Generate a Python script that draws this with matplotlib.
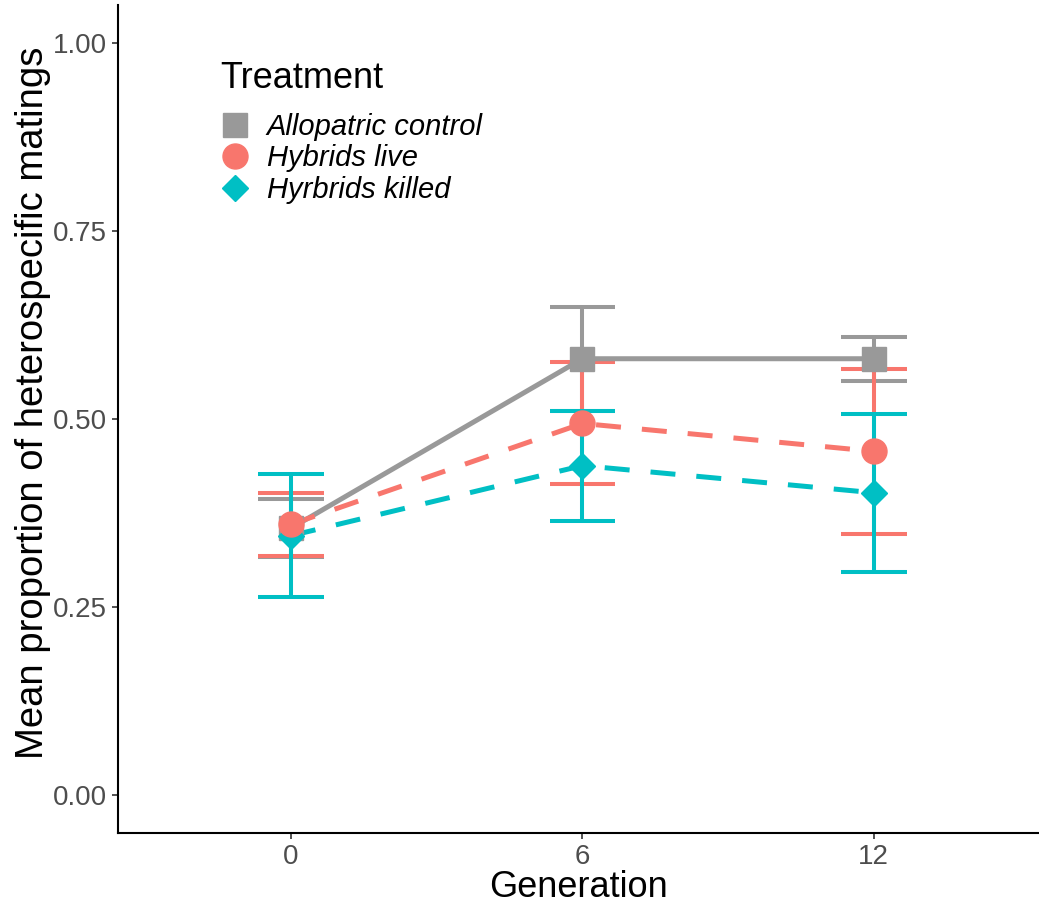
import matplotlib
matplotlib.use("Agg")
import matplotlib.pyplot as plt
from matplotlib.lines import Line2D
import numpy as np

plt.rcParams["font.family"] = ["Liberation Sans", "DejaVu Sans"]

generations = ["0", "6", "12"]
treatments = ["Allopatric control", "Hybrids live", "Hyrbrids killed"]

control_mean = [0.355, 0.580, 0.580]
control_se = [0.039, 0.069, 0.029]
live_mean = [0.360, 0.494, 0.457]
live_se = [0.042, 0.081, 0.110]
killed_mean = [0.345, 0.438, 0.402]
killed_se = [0.082, 0.073, 0.105]

colors = ["#999999", "#F8766D", "#00BFC4"]
markers = ["s", "o", "D"]
marker_sizes = [17, 18, 13]
styles = ["solid", "dashed", "dashed"]

means = [control_mean, live_mean, killed_mean]
ses = [control_se, live_se, killed_se]

fig = plt.figure(figsize=(10.39, 9.09), dpi=100)
ax = fig.add_axes([0.1136, 0.0836, 0.8864, 0.911])

x = np.arange(len(generations))
cap = 0.113

# error bars
for m, s, c in zip(means, ses, colors):
    m = np.array(m)
    s = np.array(s)
    ax.vlines(x, m - s, m + s, color=c, lw=2.9, zorder=2)
    ax.hlines(m - s, x - cap, x + cap, color=c, lw=2.9, zorder=2)
    ax.hlines(m + s, x - cap, x + cap, color=c, lw=2.9, zorder=2)

# connecting lines
for m, c, ls in zip(means, colors, styles):
    line, = ax.plot(x, m, color=c, lw=3.6, zorder=3, solid_capstyle="butt")
    if ls == "dashed":
        line.set_dashes((5, 4.2))
        line.set_dash_capstyle("butt")

# points
for m, c, mk, ms, z in zip(means, colors, markers, marker_sizes, [4, 6, 5]):
    ax.plot(x, m, ls="none", marker=mk, ms=ms, color=c, mec=c, zorder=z)

ax.set_xlim(-0.594, 2.567)
ax.set_ylim(-0.05, 1.05)
ax.set_xticks(x, generations)
ax.set_yticks([0, 0.25, 0.5, 0.75, 1.0], ["0.00", "0.25", "0.50", "0.75", "1.00"])
ax.tick_params(labelsize=20, labelcolor="#4D4D4D", length=4, width=1.2, pad=4, color="#333333")
for side in ["top", "right"]:
    ax.spines[side].set_visible(False)
for side in ["left", "bottom"]:
    ax.spines[side].set_linewidth(1.5)
    ax.spines[side].set_color("black")

ax.set_xlabel("Generation", fontsize=26, labelpad=0)
ax.set_ylabel("Mean proportion of heterospecific matings", fontsize=27.5)
ax.yaxis.set_label_coords(-0.073, 0.52)

handles = [
    Line2D([], [], ls="none", marker=mk, ms=ms, color=c, mec=c)
    for mk, ms, c in zip(markers, marker_sizes, colors)
]
leg = ax.legend(
    handles, treatments, title="Treatment", loc="upper left",
    bbox_to_anchor=(0.098, 0.946), frameon=False, fontsize=21,
    title_fontsize=26, alignment="left", handletextpad=0.6,
    labelspacing=0.12, handlelength=1.0, borderaxespad=0,
)
for t in leg.get_texts():
    t.set_fontstyle("italic")
leg._legend_box.sep = 12

fig.savefig("out.png", dpi=100)
